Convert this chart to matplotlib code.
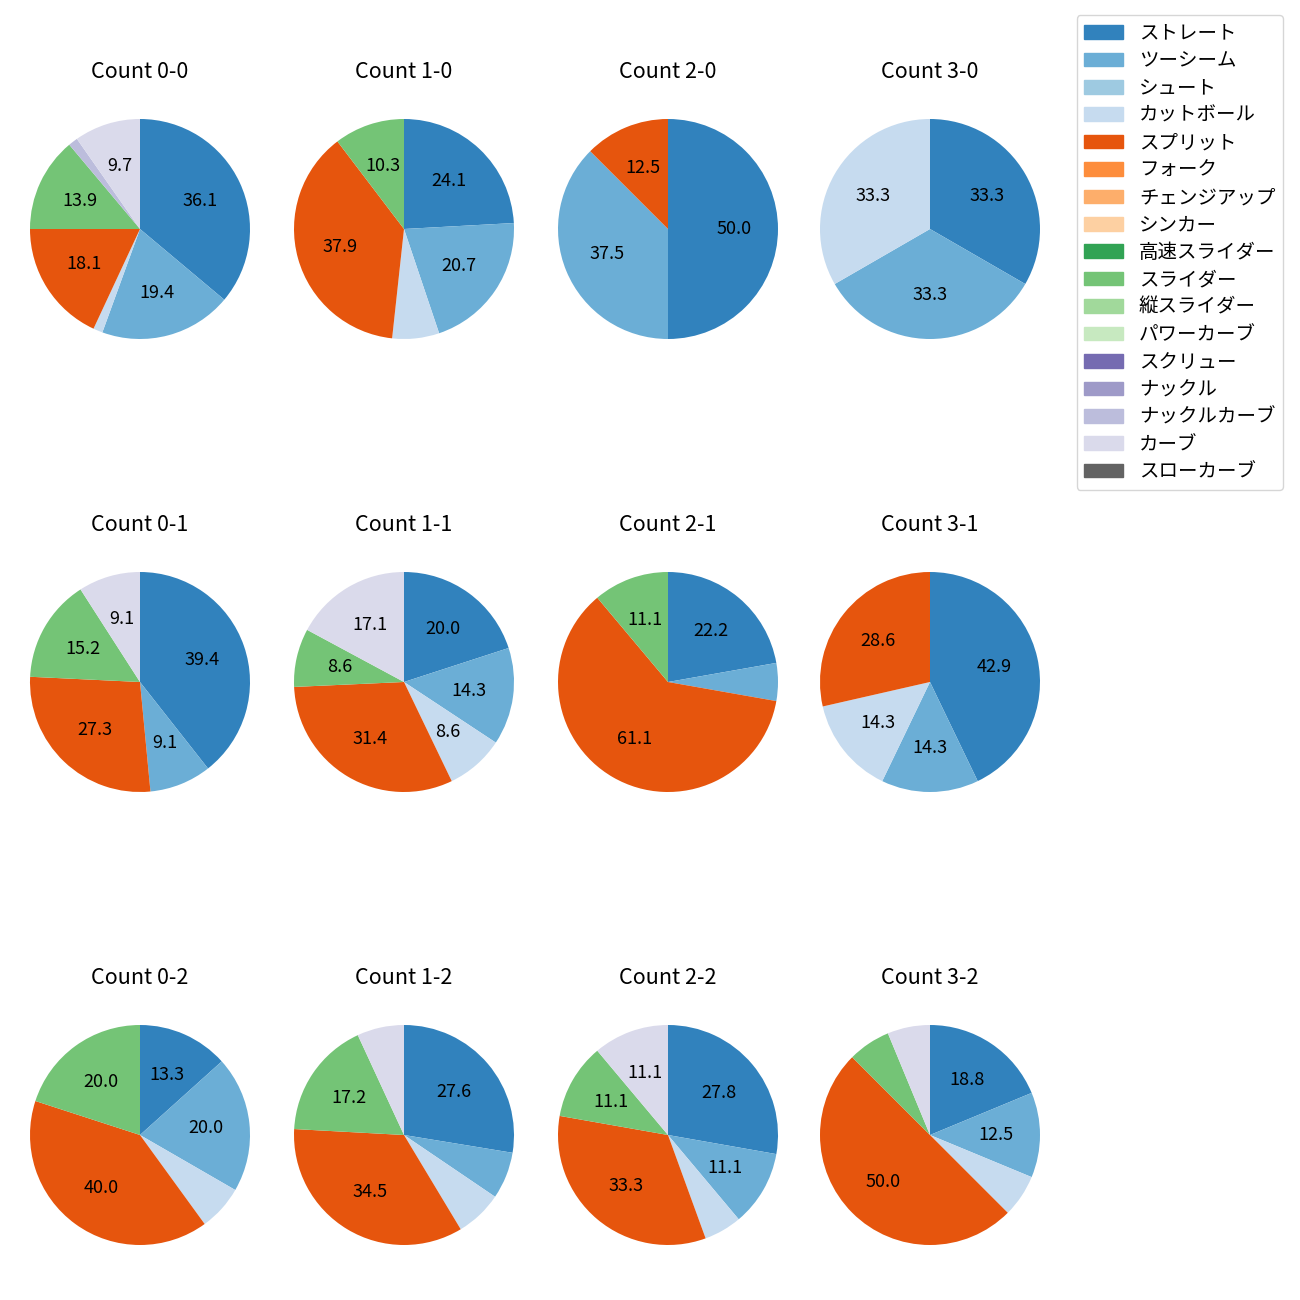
import matplotlib
matplotlib.use("Agg")
import matplotlib.pyplot as plt
from matplotlib.patches import Patch

plt.rcParams['font.family'] = ['Noto Sans CJK JP', 'DejaVu Sans']

pitch_types = ['ストレート', 'ツーシーム', 'シュート', 'カットボール', 'スプリット',
               'フォーク', 'チェンジアップ', 'シンカー', '高速スライダー', 'スライダー',
               '縦スライダー', 'パワーカーブ', 'スクリュー', 'ナックル', 'ナックルカーブ',
               'カーブ', 'スローカーブ']
colors = ['#3182bd', '#6baed6', '#9ecae1', '#c6dbef', '#e6550d', '#fd8d3c',
          '#fdae6b', '#fdd0a2', '#31a354', '#74c476', '#a1d99b', '#c7e9c0',
          '#756bb1', '#9e9ac8', '#bcbddc', '#dadaeb', '#636363']

counts = ['0-0', '1-0', '2-0', '3-0',
          '0-1', '1-1', '2-1', '3-1',
          '0-2', '1-2', '2-2', '3-2']

# pitches per count, in pitch_types order
pitches = {
    '0-0': [26, 14, 0, 1, 13, 0, 0, 0, 0, 10, 0, 0, 0, 0, 1, 7, 0],
    '1-0': [7, 6, 0, 2, 11, 0, 0, 0, 0, 3, 0, 0, 0, 0, 0, 0, 0],
    '2-0': [4, 3, 0, 0, 1, 0, 0, 0, 0, 0, 0, 0, 0, 0, 0, 0, 0],
    '3-0': [1, 1, 0, 1, 0, 0, 0, 0, 0, 0, 0, 0, 0, 0, 0, 0, 0],
    '0-1': [13, 3, 0, 0, 9, 0, 0, 0, 0, 5, 0, 0, 0, 0, 0, 3, 0],
    '1-1': [7, 5, 0, 3, 11, 0, 0, 0, 0, 3, 0, 0, 0, 0, 0, 6, 0],
    '2-1': [4, 1, 0, 0, 11, 0, 0, 0, 0, 2, 0, 0, 0, 0, 0, 0, 0],
    '3-1': [3, 1, 0, 1, 2, 0, 0, 0, 0, 0, 0, 0, 0, 0, 0, 0, 0],
    '0-2': [2, 3, 0, 1, 6, 0, 0, 0, 0, 3, 0, 0, 0, 0, 0, 0, 0],
    '1-2': [8, 2, 0, 2, 10, 0, 0, 0, 0, 5, 0, 0, 0, 0, 0, 2, 0],
    '2-2': [5, 2, 0, 1, 6, 0, 0, 0, 0, 2, 0, 0, 0, 0, 0, 2, 0],
    '3-2': [3, 2, 0, 1, 8, 0, 0, 0, 0, 1, 0, 0, 0, 0, 0, 1, 0],
}


def autopct(p):
    return f'{p:.1f}' if p >= 8 else ''


fig = plt.figure(figsize=(13, 13), dpi=100)
col_x = [140, 404, 668, 930]
row_y = [229, 682, 1135]
size = 275

for i, c in enumerate(counts):
    cx = col_x[i % 4]
    cy = row_y[i // 4]
    ax = fig.add_axes([(cx - size / 2) / 1300, 1 - (cy + size / 2) / 1300,
                       size / 1300, size / 1300])
    vals = [v for v in pitches[c] if v > 0]
    cols = [col for v, col in zip(pitches[c], colors) if v > 0]
    ax.pie(vals, colors=cols, startangle=90, counterclock=False,
           autopct=autopct, textprops={'fontsize': 13})
    ax.set_title(f'Count {c}', fontsize=15.5, pad=10)

handles = [Patch(color=col, label=name) for name, col in zip(pitch_types, colors)]
fig.legend(handles=handles, loc='upper right', bbox_to_anchor=(0.987, 0.9885),
           borderaxespad=0, fontsize=14, handlelength=2.0, labelspacing=0.33)

fig.savefig('out.png')
